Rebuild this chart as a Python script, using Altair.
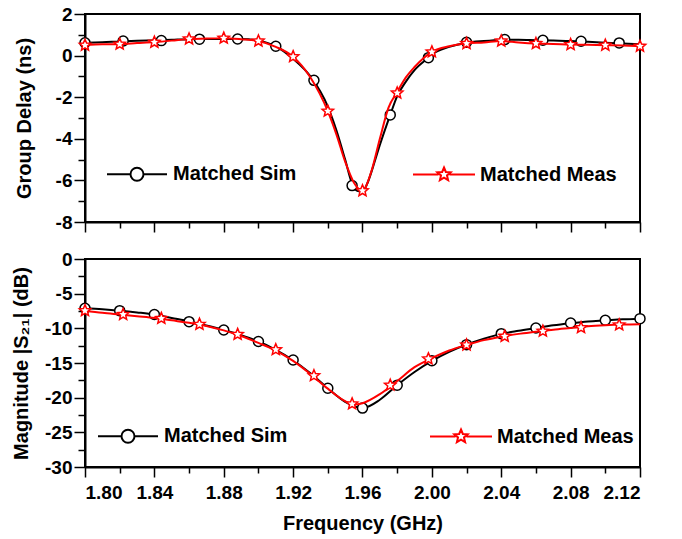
import altair as alt
import pandas as pd

# ---------------- data ----------------
# Group delay (ns) - simulated line
gd_sim_f = [1.80, 1.81, 1.82, 1.83, 1.84, 1.85, 1.86, 1.87, 1.88, 1.89, 1.90, 1.91, 1.92, 1.93,
            1.94, 1.945, 1.95, 1.954, 1.957, 1.96, 1.963, 1.967, 1.97, 1.976, 1.98, 1.985, 1.99,
            1.998, 2.00, 2.01, 2.02, 2.03, 2.04, 2.05, 2.06, 2.07, 2.08, 2.09, 2.10, 2.11, 2.12]
gd_sim_v = [0.62, 0.64, 0.68, 0.71, 0.73, 0.76, 0.79, 0.80, 0.80, 0.80, 0.72, 0.45, -0.15, -1.0,
            -2.45, -3.6, -5.0, -6.15, -6.5, -6.55, -6.1, -5.1, -4.3, -2.85, -1.95, -1.25, -0.7,
            -0.1, 0.05, 0.42, 0.62, 0.70, 0.75, 0.76, 0.74, 0.72, 0.70, 0.66, 0.62, 0.58, 0.55]
gd_sim_mf = [1.800, 1.822, 1.844, 1.866, 1.888, 1.910, 1.932, 1.954, 1.976, 1.998, 2.020, 2.042,
             2.064, 2.086, 2.108]
gd_sim_mv = [0.62, 0.70, 0.72, 0.79, 0.80, 0.45, -1.19, -6.25, -2.85, -0.10, 0.64, 0.77, 0.74,
             0.69, 0.61]

# Group delay (ns) - measured line
gd_meas_f = [1.80, 1.81, 1.82, 1.83, 1.84, 1.85, 1.86, 1.87, 1.88, 1.89, 1.90, 1.91, 1.92, 1.93,
             1.94, 1.945, 1.95, 1.955, 1.96, 1.965, 1.97, 1.975, 1.98, 1.985, 1.99, 2.00, 2.01,
             2.02, 2.03, 2.04, 2.05, 2.06, 2.07, 2.08, 2.09, 2.10, 2.11, 2.12]
gd_meas_v = [0.50, 0.54, 0.55, 0.60, 0.65, 0.72, 0.80, 0.82, 0.84, 0.79, 0.70, 0.42, -0.05, -1.05,
             -2.67, -3.8, -5.1, -6.1, -6.5, -5.6, -4.0, -2.5, -1.75, -1.05, -0.55, 0.18, 0.45,
             0.58, 0.63, 0.70, 0.63, 0.58, 0.56, 0.53, 0.52, 0.50, 0.48, 0.45]
gd_meas_mf = [1.80, 1.82, 1.84, 1.86, 1.88, 1.90, 1.92, 1.94, 1.96, 1.98, 2.00, 2.02, 2.04, 2.06,
              2.08, 2.10, 2.12]
gd_meas_mv = [0.50, 0.55, 0.64, 0.80, 0.84, 0.70, -0.05, -2.67, -6.5, -1.8, 0.18, 0.58, 0.70, 0.58,
              0.53, 0.50, 0.45]

# |S21| (dB) - simulated
s21_sim_f = [1.80, 1.81, 1.82, 1.83, 1.84, 1.85, 1.86, 1.87, 1.88, 1.89, 1.90, 1.91, 1.92, 1.93,
             1.94, 1.95, 1.96, 1.97, 1.98, 1.99, 2.00, 2.01, 2.02, 2.03, 2.04, 2.05, 2.06, 2.07,
             2.08, 2.09, 2.10, 2.11, 2.12]
s21_sim_v = [-7.1, -7.25, -7.45, -7.7, -8.0, -8.5, -9.0, -9.6, -10.25, -11.0, -11.9, -13.1, -14.6,
             -16.5, -18.65, -20.6, -21.5, -20.3, -18.2, -16.3, -14.7, -13.4, -12.35, -11.5, -10.8,
             -10.35, -9.95, -9.55, -9.25, -9.0, -8.85, -8.7, -8.6]
s21_sim_mf = [1.80, 1.82, 1.84, 1.86, 1.88, 1.90, 1.92, 1.94, 1.96, 1.98, 2.00, 2.02, 2.04, 2.06,
              2.08, 2.10, 2.12]
s21_sim_mv = [-7.1, -7.45, -8.0, -9.04, -10.24, -11.9, -14.57, -18.65, -21.5, -18.2, -14.66,
              -12.35, -10.77, -9.95, -9.23, -8.85, -8.6]

# |S21| (dB) - measured
s21_meas_f = [1.80, 1.81, 1.82, 1.83, 1.84, 1.85, 1.86, 1.87, 1.88, 1.89, 1.90, 1.91, 1.92, 1.93,
              1.94, 1.95, 1.955, 1.96, 1.97, 1.98, 1.99, 2.00, 2.01, 2.02, 2.03, 2.04, 2.05, 2.06,
              2.07, 2.08, 2.09, 2.10, 2.11, 2.12]
s21_meas_v = [-7.45, -7.75, -8.0, -8.25, -8.5, -8.85, -9.2, -9.65, -10.3, -11.1, -12.1, -13.2,
              -14.7, -16.6, -18.7, -20.5, -21.0, -20.8, -19.5, -17.6, -15.6, -14.3, -13.2, -12.4,
              -11.7, -11.2, -10.8, -10.5, -10.2, -9.95, -9.7, -9.55, -9.45, -9.4]
s21_meas_mf = [1.800, 1.822, 1.844, 1.866, 1.888, 1.910, 1.932, 1.954, 1.976, 1.998, 2.020, 2.042,
               2.064, 2.086, 2.108]
s21_meas_mv = [-7.45, -8.0, -8.56, -9.42, -10.87, -13.08, -16.83, -20.9, -18.2, -14.4, -12.4,
               -11.15, -10.4, -9.9, -9.5]

series_names = ["Matched Sim", "Matched Meas"]
series_colors = ["black", "#ff0000"]

x_major = [1.80, 1.84, 1.88, 1.92, 1.96, 2.00, 2.04, 2.08, 2.12]
x_minor = [1.82, 1.86, 1.90, 1.94, 1.98, 2.02, 2.06, 2.10]
gd_major = [-8, -6, -4, -2, 0, 2]
gd_minor = [-7, -5, -3, -1, 1]
s21_major = [-30, -25, -20, -15, -10, -5, 0]
s21_minor = [-27.5, -22.5, -17.5, -12.5, -7.5, -2.5]

FONT = "Liberation Sans"
STAR = ("M0,-1L0.2645,-0.3641L0.9511,-0.309L0.428,0.1391L0.5878,0.809L0,0.45L-0.5878,0.809"
        "L-0.428,0.1391L-0.9511,-0.309L-0.2645,-0.3641Z")
LEG_SIM = "M-6,0L-1.3,0M1.3,0L6,0M-1.3,0A1.3,1.3 0 1,1 1.3,0A1.3,1.3 0 1,1 -1.3,0Z"
LEG_MEAS = ("M-6.2,0L-1.1,0M1.1,0L6.2,0M0,-1.4L0.37,-0.51L1.332,-0.433L0.599,0.195L0.823,1.133"
            "L0,0.63L-0.823,1.133L-0.599,0.195L-1.332,-0.433L-0.37,-0.51Z")


def df(f, v, name):
    return pd.DataFrame({"f": f, "v": v, "series": name})


xscale = alt.Scale(domain=[1.80, 2.12], nice=False, zero=False)


def panel(sim_f, sim_v, sim_mf, sim_mv, meas_f, meas_v, meas_mf, meas_mv,
          ydom, ymaj, ymin, ytitle, ytitlepad, show_xlabels, legx, legy, colpad):
    yscale = alt.Scale(domain=ydom, nice=False, zero=False)
    x_main_axis = alt.Axis(values=x_major, format=".2f", tickSize=10, labels=show_xlabels,
                           orient="bottom",
                           title="Frequency (GHz)" if show_xlabels else None,
                           titlePadding=11, labelPadding=6)
    x_minor_axis = alt.Axis(values=x_minor, tickSize=6, labels=False, domain=False, title=None,
                            orient="bottom")
    y_main_axis = alt.Axis(values=ymaj, tickSize=11, labelExpr="'' + datum.value",
                           orient="left", title=ytitle, titlePadding=ytitlepad, labelPadding=2)
    y_minor_axis = alt.Axis(values=ymin, tickSize=7, labels=False, domain=False, title=None,
                            orient="left")

    legend = alt.Legend(
        title=None, orient="none", legendX=legx, legendY=legy, direction="horizontal",
        columns=2, columnPadding=colpad, symbolSize=100, symbolStrokeWidth=2,
        symbolFillColor="white", symbolOpacity=1,
        symbolOffset=30, labelOffset=26, labelFont=FONT, labelFontSize=20,
        labelFontWeight="bold", labelColor="black", labelLimit=400)

    sim_line = alt.Chart(df(sim_f, sim_v, "Matched Sim")).mark_line(
        color="black", strokeWidth=2, interpolate="monotone").encode(
        x=alt.X("f:Q", scale=xscale, axis=x_main_axis),
        y=alt.Y("v:Q", scale=yscale, axis=y_main_axis))
    sim_pts = alt.Chart(df(sim_mf, sim_mv, "Matched Sim")).mark_point(
        shape="circle", size=100, filled=False, fill="white", fillOpacity=1,
        stroke="black", strokeWidth=1.5, opacity=1).encode(
        x=alt.X("f:Q", scale=xscale, axis=None),
        y=alt.Y("v:Q", scale=yscale, axis=None))
    meas_line = alt.Chart(df(meas_f, meas_v, "Matched Meas")).mark_line(
        color="#ff0000", strokeWidth=2, interpolate="monotone").encode(
        x=alt.X("f:Q", scale=xscale, axis=x_minor_axis),
        y=alt.Y("v:Q", scale=yscale, axis=y_minor_axis))
    meas_pts = alt.Chart(df(meas_mf, meas_mv, "Matched Meas")).mark_point(
        shape=STAR, size=144, filled=False, fill="white", fillOpacity=1,
        stroke="#ff0000", strokeWidth=1.5, opacity=1).encode(
        x=alt.X("f:Q", scale=xscale, axis=None),
        y=alt.Y("v:Q", scale=yscale, axis=None))
    # legend-only layer (invisible marks, drives the legend)
    key_df = pd.concat([df(sim_mf[:1], sim_mv[:1], "Matched Sim"),
                        df(meas_mf[:1], meas_mv[:1], "Matched Meas")])
    key = alt.Chart(key_df).mark_point(opacity=0, filled=False).encode(
        x=alt.X("f:Q", scale=xscale, axis=None),
        y=alt.Y("v:Q", scale=yscale, axis=None),
        stroke=alt.Stroke("series:N", scale=alt.Scale(domain=series_names, range=series_colors),
                          legend=legend),
        shape=alt.Shape("series:N", scale=alt.Scale(domain=series_names,
                                                    range=[LEG_SIM, LEG_MEAS]),
                        legend=legend))

    return alt.layer(sim_line, sim_pts, meas_line, meas_pts, key).resolve_axis(
        x="independent", y="independent").properties(width=555, height=208)


top = panel(gd_sim_f, gd_sim_v, gd_sim_mf, gd_sim_mv, gd_meas_f, gd_meas_v, gd_meas_mf, gd_meas_mv,
            [-8, 2], gd_major, gd_minor, "Group Delay (ns)", 21, False, 12, 150, 107)
bottom = panel(s21_sim_f, s21_sim_v, s21_sim_mf, s21_sim_mv, s21_meas_f, s21_meas_v, s21_meas_mf,
               s21_meas_mv, [-30, 0], s21_major, s21_minor, "Magnitude |S\u2082\u2081| (dB)", 13,
               True, 3, 167, 133)

chart = alt.vconcat(top, bottom, spacing=15).resolve_scale(
    stroke="independent", shape="independent").properties(
    padding={"left": 10, "top": 4, "right": 5, "bottom": 5}
).configure(background="white").configure_view(
    stroke="black", strokeWidth=2
).configure_axis(
    grid=False, domainColor="black", domainWidth=2, tickColor="black", tickWidth=1.5,
    labelFont=FONT, labelFontSize=19, labelFontWeight="bold", labelColor="black",
    titleFont=FONT, titleFontSize=20, titleFontWeight="bold", titleColor="black"
)

chart.save("out.html", embed_options={"renderer": "svg", "actions": False})
